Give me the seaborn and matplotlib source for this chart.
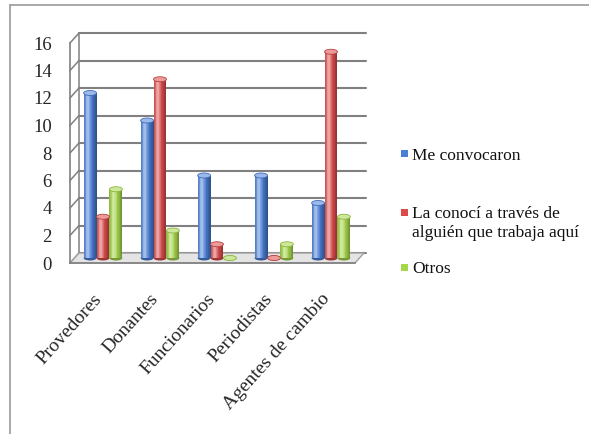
import numpy as np
import pandas as pd
import matplotlib
matplotlib.use("Agg")
import matplotlib.pyplot as plt
import matplotlib.transforms as mtransforms
from matplotlib.patches import Rectangle, Ellipse, Polygon
from matplotlib.colors import to_rgb
import seaborn as sns

# ---- data -------------------------------------------------------------
categories = ["Provedores", "Donantes", "Funcionarios", "Periodistas", "Agentes de cambio"]
series_names = ["Me convocaron",
                "La conocí a través de\nalguién que trabaja aquí",
                "Otros"]
me_convocaron = [12, 10, 6, 6, 4]
la_conoci = [3, 13, 1, 0, 15]
otros = [5, 2, 0, 1, 3]
y_ticks = [0, 2, 4, 6, 8, 10, 12, 14, 16]

colors = ["#4a7fd8", "#dc4a4a", "#a6d64a"]

df = pd.DataFrame({
    "categoria": categories * 3,
    "serie": [series_names[0]] * 5 + [series_names[1]] * 5 + [series_names[2]] * 5,
    "valor": me_convocaron + la_conoci + otros,
})

# ---- figure -----------------------------------------------------------
sns.set_style("white")
plt.rcParams["font.family"] = ["Liberation Serif", "DejaVu Serif"]

W, H = 589, 434
fig = plt.figure(figsize=(W / 100, H / 100), dpi=100)

# front plane of the 3-D box, in pixels
x_left, x_right, y_zero, y_top = 70, 355, 263, 43
ax = fig.add_axes([x_left / W, 1 - y_zero / H, (x_right - x_left) / W, (y_zero - y_top) / H])

sns.barplot(data=df, x="categoria", y="valor", hue="serie", palette=colors,
            hue_order=series_names, order=categories, width=0.68,
            saturation=1, legend=False, ax=ax, zorder=3)

ax.set_xlim(-0.5, 4.5)
ax.set_ylim(0, 16)

px_x = (x_right - x_left) / 5.0      # pixels per category
px_y = (y_zero - y_top) / 16.0       # pixels per unit
depth_x, depth_y = 9.0, 10.0         # depth of the box, pixels
dxb, dyb = depth_x / px_x, depth_y / px_y

grid_col = "#808080"
# back wall gridlines
for v in y_ticks:
    ax.plot([-0.5 + dxb, 4.5 + dxb * 1.2], [v + dyb, v + dyb], color=grid_col,
            lw=1.5, clip_on=False, zorder=0.4)
    # left wall connectors
    ax.plot([-0.5, -0.5 + dxb], [v, v + dyb], color=grid_col, lw=1.1,
            clip_on=False, zorder=0.4)
ax.plot([-0.5 + dxb, -0.5 + dxb], [dyb, 16 + dyb], color=grid_col, lw=1.1,
        clip_on=False, zorder=0.4)

# floor
floor = Polygon([(-0.5, 0), (4.5, 0), (4.5 + dxb, dyb), (-0.5 + dxb, dyb)],
                closed=True, facecolor="#e4e4e4", edgecolor="#a0a0a0", lw=1.0,
                clip_on=False, zorder=0.6)
ax.add_patch(floor)

# bars sit half-way into the depth of the box
mid = mtransforms.ScaledTranslation(depth_x / 2 / 100, depth_y / 2 / 100, fig.dpi_scale_trans)
bar_trans = ax.transData + mid


def shade(base, t):
    base = np.array(base)
    dark = 0.38 * (abs(t - 0.38) / 0.62) ** 1.6
    c = base * (1 - dark)
    hi = 0.5 * np.exp(-((t - 0.33) / 0.2) ** 2)
    return tuple(c * (1 - hi) + hi)


cap_h = 5.0 / px_y
n_strips = 18
for p in list(ax.patches):
    if not isinstance(p, Rectangle) or p is floor:
        continue
    p.set_transform(bar_trans)
    p.set_clip_on(False)
    x0, w, h = p.get_x(), p.get_width(), p.get_height()
    base = to_rgb(p.get_facecolor())
    p.set_edgecolor("none")
    for k in range(n_strips):
        t = (k + 0.5) / n_strips
        ax.add_patch(Rectangle((x0 + k * w / n_strips, 0), w / n_strips * 1.05, h,
                               facecolor=shade(base, t), edgecolor="none",
                               transform=bar_trans, clip_on=False, zorder=3.1))
    # rounded base and top of each cylinder
    ax.add_patch(Ellipse((x0 + w / 2, 0), w, cap_h, facecolor=shade(base, 0.9),
                         edgecolor="none", transform=bar_trans, clip_on=False, zorder=3.0))
    top = tuple(np.array(base) * 0.55 + 0.45)
    ax.add_patch(Ellipse((x0 + w / 2, h), w, cap_h, facecolor=top,
                         edgecolor=tuple(np.array(base) * 0.85), lw=0.6,
                         transform=bar_trans, clip_on=False, zorder=3.3))

# axes, ticks and labels
for s in ["top", "right"]:
    ax.spines[s].set_visible(False)
for s in ["left", "bottom"]:
    ax.spines[s].set_color(grid_col)
    ax.spines[s].set_linewidth(1.2)
ax.set_xlabel("")
ax.set_ylabel("")
ax.set_yticks(y_ticks)
ax.set_yticklabels([str(v) for v in y_ticks], fontsize=13.5)
ax.tick_params(axis="y", length=4, width=1.0, color=grid_col, pad=9)

ax.set_xticks(np.arange(-0.5, 5, 1.0))
ax.set_xticklabels([""] * 6)
ax.tick_params(axis="x", which="major", length=5, width=1.0, color=grid_col, direction="out")
ax.set_xticks(np.arange(5), minor=True)
ax.set_xticklabels(categories, minor=True, rotation=48, ha="right",
                   rotation_mode="anchor", fontsize=14)
ax.tick_params(axis="x", which="minor", length=0, pad=24)
for lab in ax.get_xticklabels(minor=True):
    lab.set_va("center")
ax.grid(False)

# legend: key squares and label lines
leg_x_sq, leg_x_txt = 401, 412
legend_rows = [
    (colors[0], 150, [(series_names[0], 160)]),
    (colors[1], 209, [(line, b) for line, b in zip(series_names[1].split("\n"), (218, 237))]),
    (colors[2], 264, [(series_names[2], 273)]),
]
for col, sq_top, lines in legend_rows:
    fig.patches.append(Rectangle((leg_x_sq / W, 1 - (sq_top + 7) / H), 7 / W, 7 / H,
                                 facecolor=col, edgecolor="none",
                                 transform=fig.transFigure, figure=fig))
    for txt, baseline in lines:
        fig.text(leg_x_txt / W, 1 - baseline / H, txt, fontsize=12.5, va="baseline",
                 ha="left", color="#111111")

# outer chart border
fig.add_artist(plt.Line2D([10 / W, 1], [1 - 4.5 / H, 1 - 4.5 / H],
                          transform=fig.transFigure, color="#9a9a9a", lw=1.2))
fig.add_artist(plt.Line2D([10 / W, 10 / W], [0, 1 - 4.5 / H],
                          transform=fig.transFigure, color="#9a9a9a", lw=1.2))

fig.savefig("out.png", dpi=100)
